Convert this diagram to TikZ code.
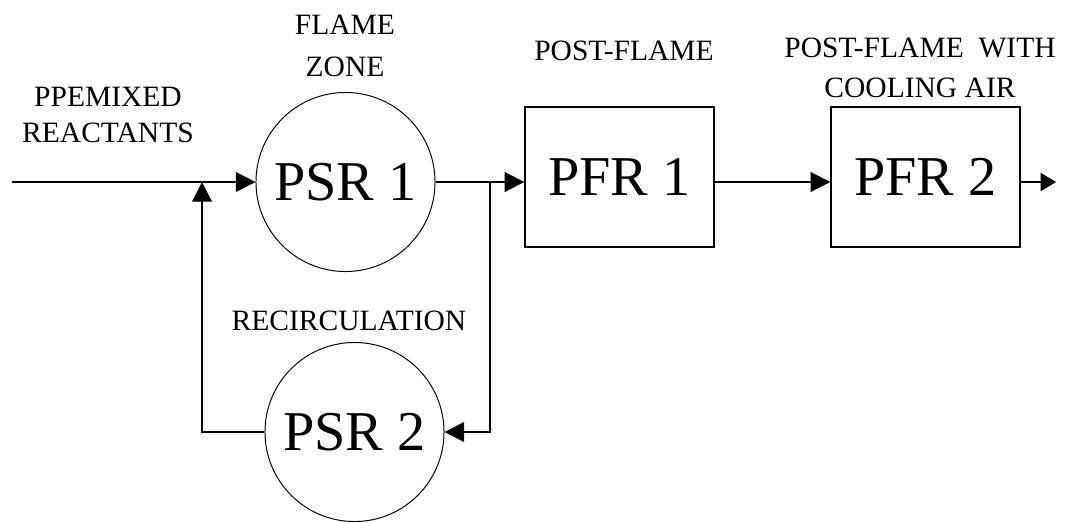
\documentclass[tikz,border=0pt]{standalone}
\usepackage{fontspec}
\setmainfont{Liberation Serif}
\usepackage{tikz}
\usetikzlibrary{arrows.meta,positioning,calc}

\begin{document}
\begin{tikzpicture}[x=0.025cm, y=-0.025cm,
  reactor/.style={draw, circle, line width=0.7pt, minimum size=4.475cm, inner sep=0pt,
    font=\fontsize{40}{44}\selectfont},
  tube/.style={draw, rectangle, line width=0.9pt, minimum width=4.725cm, minimum height=3.5cm,
    inner sep=0pt, font=\fontsize{40}{44}\selectfont},
  flow/.style={-{Triangle[length=14pt, width=14pt]}, line width=1.3pt},
  outflow/.style={-{Triangle[length=11pt, width=13pt]}, line width=0.8pt},
  tag/.style={align=center, font=\fontsize{21}{25.5}\selectfont, inner sep=0pt}]
\useasboundingbox (0,0) rectangle (1067,522);
% reactors
\node[reactor] (psr1) at (345.5,182) {PSR 1};
\node[reactor] (psr2) at (354.5,432) {PSR 2};
\node[tube] (pfr1) at (619.5,177) {PFR 1};
\node[tube] (pfr2) at (925.5,177) {PFR 2};
% labels
\node[tag] (lmix) at (108,115) {PPEMIXED\\REACTANTS};
\node[tag, font=\fontsize{21}{30}\selectfont] (lflame) at (345,46) {FLAME\\ZONE};
\node[tag] (lpost) at (624,51) {POST-FLAME};
\node[tag, font=\fontsize{21}{28.5}\selectfont] (lcool) at (920,68) {POST-FLAME\hspace{0.5em}WITH\\COOLING AIR};
\node[tag] (lrec) at (349,321) {RECIRCULATION};
% connectors
\coordinate (in) at (12,182);
\coordinate (j1) at (202,182);
\coordinate (j2) at (490,182);
\coordinate (out) at (1056,182);
\draw[flow] (in) -- (psr1);
\draw[flow] (psr2) -| (j1);
\draw[flow] (psr1) -- (psr1 -| pfr1.west);
\draw[flow] (j2) |- (psr2);
\draw[flow] (pfr1.east |- psr1) -- (pfr2.west |- psr1);
\draw[outflow] (pfr2.east |- psr1) -- (out);
\end{tikzpicture}
\end{document}
